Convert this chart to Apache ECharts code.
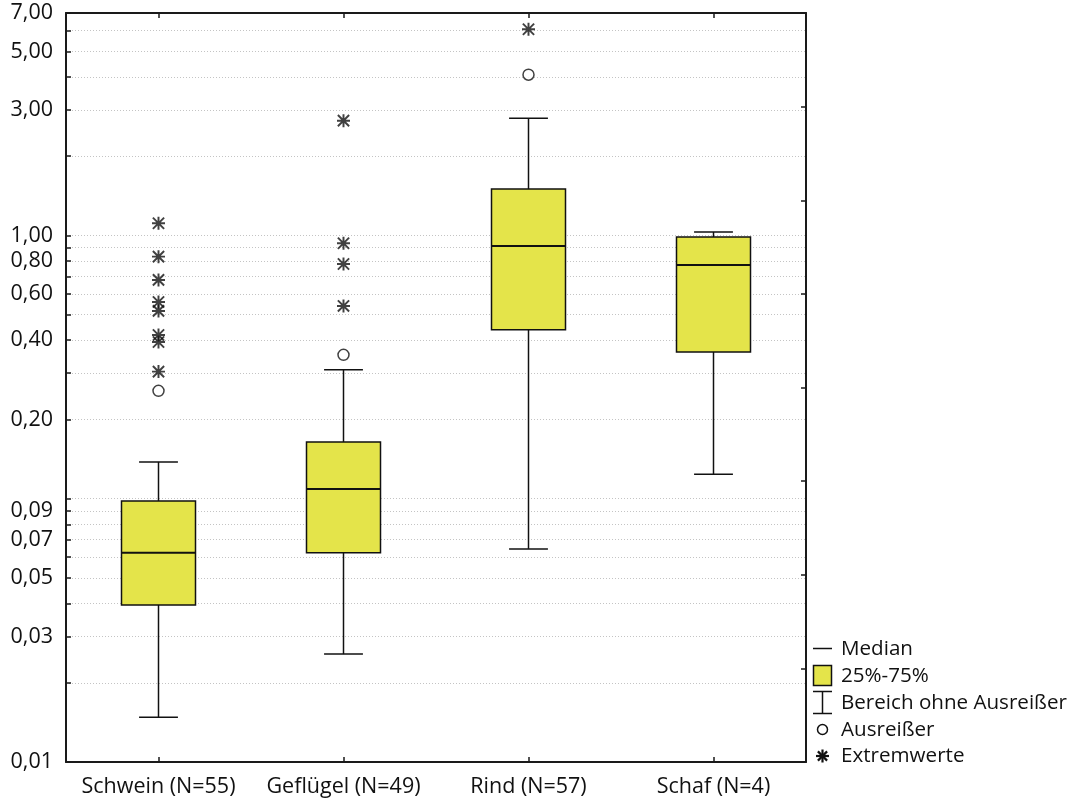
<!DOCTYPE html>
<html>
<head>
<meta charset="utf-8">
<script src="https://cdn.jsdelivr.net/npm/echarts@6/dist/echarts.min.js"></script>
<style>html,body{margin:0;padding:0;background:#fff}#c{width:1078px;height:805px}</style>
</head>
<body>
<div id="c"></div>
<script>
// ---- data ----
const categories = ['Schwein (N=55)', 'Geflügel (N=49)', 'Rind (N=57)', 'Schaf (N=4)'];
// [whisker low, Q1, median, Q3, whisker high]
const boxMin    = [0.0148, 0.0257, 0.0645, 0.124];
const boxQ1     = [0.0395, 0.0623, 0.438, 0.361];
const boxMedian = [0.0623, 0.109, 0.912, 0.773];
const boxQ3     = [0.0981, 0.1643, 1.50, 0.987];
const boxMax    = [0.138, 0.309, 2.79, 1.031];
// outliers (Ausreißer): [categoryIndex, value]
const outliers = [[0, 0.257], [1, 0.352], [2, 4.08]];
// extreme values (Extremwerte)
const extremes = [
  [0, 1.113], [0, 0.831], [0, 0.678], [0, 0.559], [0, 0.517], [0, 0.419], [0, 0.394], [0, 0.304],
  [1, 2.73], [1, 0.934], [1, 0.779], [1, 0.540],
  [2, 6.07]
];
const gridValues  = [0.01,0.02,0.03,0.04,0.05,0.06,0.07,0.08,0.09,0.1,0.2,0.3,0.4,0.5,0.6,0.7,0.8,0.9,1,2,3,4,5,6,7];
const labelValues = [0.01,0.03,0.05,0.07,0.09,0.2,0.4,0.6,0.8,1,3,5,7];
const legendLabels = ['Median', '25%-75%', 'Bereich ohne Ausreißer', 'Ausreißer', 'Extremwerte'];

const FONT = 'Open Sans';
const FS = 21.5;
const LFS = 20.6;
const boxData = categories.map((c, i) => [i, boxMin[i], boxQ1[i], boxMedian[i], boxQ3[i], boxMax[i]]);

const starPath = 'path://M8.5 0L11.5 0L11.5 20L8.5 20ZM0 8.5L20 8.5L20 11.5L0 11.5ZM2.4 0.3L19.7 17.6L17.6 19.7L0.3 2.4ZM17.6 0.3L19.7 2.4L2.4 19.7L0.3 17.6Z';

const chart = echarts.init(document.getElementById('c'), null, {renderer: 'canvas'});
const axisLine = {show: true, lineStyle: {color: '#1a1a1a', width: 2}};
const ls = {stroke: '#111', lineWidth: 1.5};
const legendY = [649.5, 676, 703, 730, 756.5];
const textStyle = (t, y) => ({type: 'text', x: 841, y: y,
  style: {text: t, fontFamily: FONT, fontSize: LFS, fill: '#111', textVerticalAlign: 'middle', verticalAlign: 'middle'}});
const sx = 822.5, sy = 756, sr = 6.5, sd = 4.6;
const sls = {stroke: '#111', lineWidth: 2.2};
const graphics = [
  {type: 'line', shape: {x1: 813, y1: 648.5, x2: 832, y2: 648.5}, style: ls},
  {type: 'rect', shape: {x: 813.5, y: 665.5, width: 18, height: 20}, style: {fill: '#e4e44a', stroke: '#111', lineWidth: 1.5}},
  {type: 'line', shape: {x1: 813, y1: 691.5, x2: 832, y2: 691.5}, style: ls},
  {type: 'line', shape: {x1: sx, y1: 691.5, x2: sx, y2: 713.5}, style: ls},
  {type: 'line', shape: {x1: 813, y1: 713.5, x2: 832, y2: 713.5}, style: ls},
  {type: 'circle', shape: {cx: sx, cy: 729.5, r: 5}, style: {fill: '#fff', stroke: '#111', lineWidth: 1.5}},
  {type: 'line', shape: {x1: sx, y1: sy - sr, x2: sx, y2: sy + sr}, style: sls},
  {type: 'line', shape: {x1: sx - sr, y1: sy, x2: sx + sr, y2: sy}, style: sls},
  {type: 'line', shape: {x1: sx - sd, y1: sy - sd, x2: sx + sd, y2: sy + sd}, style: sls},
  {type: 'line', shape: {x1: sx - sd, y1: sy + sd, x2: sx + sd, y2: sy - sd}, style: sls}
];
legendLabels.forEach((t, i) => graphics.push(textStyle(t, legendY[i])));

const option = {
  animation: false,
  backgroundColor: '#fff',
  textStyle: {fontFamily: FONT},
  grid: {left: 66, right: 272, top: 13, bottom: 43, containLabel: false},
  xAxis: [
    {type: 'category', data: categories, position: 'bottom', axisLine: axisLine,
     axisTick: {show: true, inside: true, alignWithLabel: true, length: 5, lineStyle: {color: '#1a1a1a', width: 1.5}},
     axisLabel: {fontFamily: FONT, fontSize: FS, color: '#111', margin: 14, interval: 0},
     splitLine: {show: false}},
    {type: 'category', data: categories, position: 'top', axisLine: axisLine,
     axisTick: {show: true, inside: true, alignWithLabel: true, length: 5, lineStyle: {color: '#1a1a1a', width: 1.5}},
     axisLabel: {show: false}, splitLine: {show: false}}
  ],
  yAxis: [
    {type: 'log', logBase: 10, min: 0.01, max: 7, position: 'left', axisLine: axisLine,
     axisTick: {show: true, inside: true, length: 5, customValues: gridValues, lineStyle: {color: '#1a1a1a', width: 1.5}},
     axisLabel: {fontFamily: FONT, fontSize: FS, color: '#111', margin: 13, customValues: labelValues,
       formatter: v => Number(v).toFixed(2).replace('.', ',')},
     splitLine: {show: true, lineStyle: {color: '#c4c4c4', width: 1, type: [1, 2]}},
     minorTick: {show: false}, minorSplitLine: {show: false}},
    {type: 'value', min: 0, max: 8, interval: 1, position: 'right', axisLine: axisLine,
     axisTick: {show: true, inside: true, length: 5, lineStyle: {color: '#1a1a1a', width: 1.5}},
     axisLabel: {show: false}, splitLine: {show: false}}
  ],
  series: [
    {
      type: 'custom', name: 'box', xAxisIndex: 0, yAxisIndex: 0,
      data: boxData,
      renderItem: function (params, api) {
        const i = api.value(0);
        const band = api.size([1, 0])[0];
        const bw = band * 0.4, cw = band * 0.21;
        const pMin = api.coord([i, api.value(1)]);
        const pQ1 = api.coord([i, api.value(2)]);
        const pMed = api.coord([i, api.value(3)]);
        const pQ3 = api.coord([i, api.value(4)]);
        const pMax = api.coord([i, api.value(5)]);
        const x = pMin[0];
        return {type: 'group', children: [
          {type: 'line', shape: {x1: x, y1: pQ3[1], x2: x, y2: pMax[1]}, style: ls},
          {type: 'line', shape: {x1: x, y1: pQ1[1], x2: x, y2: pMin[1]}, style: ls},
          {type: 'line', shape: {x1: x - cw/2, y1: pMax[1], x2: x + cw/2, y2: pMax[1]}, style: ls},
          {type: 'line', shape: {x1: x - cw/2, y1: pMin[1], x2: x + cw/2, y2: pMin[1]}, style: ls},
          {type: 'rect', shape: {x: x - bw/2, y: pQ3[1], width: bw, height: pQ1[1] - pQ3[1]},
           style: {fill: '#e4e44a', stroke: '#111', lineWidth: 1.5}},
          {type: 'line', shape: {x1: x - bw/2, y1: pMed[1], x2: x + bw/2, y2: pMed[1]}, style: {stroke: '#111', lineWidth: 2}}
        ]};
      }
    },
    {type: 'scatter', name: 'Ausreißer', data: outliers, symbol: 'circle', symbolSize: 11,
     itemStyle: {color: '#fff', borderColor: '#111', borderWidth: 1.5}, z: 5},
    {type: 'scatter', name: 'Extremwerte', data: extremes, symbol: starPath, symbolSize: 13,
     itemStyle: {color: '#111'}, z: 5}
  ],
  graphic: graphics
};
chart.setOption(option);
</script>
</body>
</html>
